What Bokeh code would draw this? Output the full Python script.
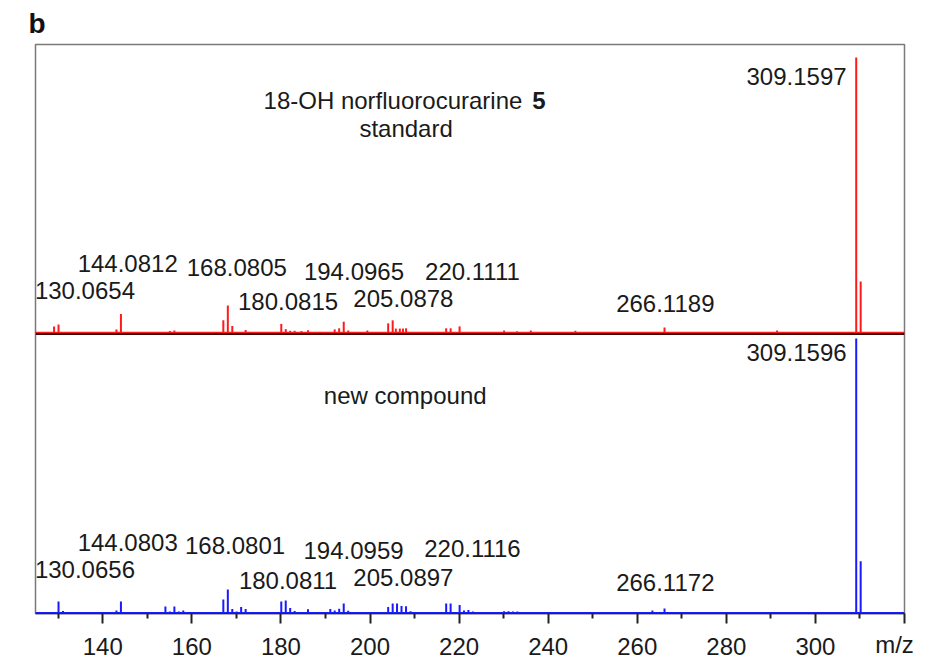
from bokeh.plotting import figure
from bokeh.models import Range1d, Span, Label, FixedTicker, ColumnDataSource
from bokeh.embed import file_html
from bokeh.resources import INLINE

# ---------------- data ----------------
# standard (red), relative intensity in %
std_mz = [129.07, 130.07, 143.07, 144.08, 155.07, 156.08, 167.07, 168.08, 169.08, 172.08,
          180.08, 181.08, 182.07, 183.08, 184.6, 186.07, 192.07, 193.07, 194.10, 195.1,
          199.4, 204.08, 205.09, 205.8, 206.7, 207.4, 208.1, 217.1, 218.1, 220.11,
          230.1, 233.0, 236.1, 246.1, 266.12, 291.4, 309.16, 310.16]
std_int = [2.2, 2.9, 1.1, 6.7, 0.5, 0.7, 4.4, 9.8, 2.3, 0.9,
           3.1, 1.2, 0.6, 0.6, 0.5, 0.8, 1.1, 1.5, 3.9, 0.7,
           0.7, 3.3, 4.4, 1.4, 1.4, 1.4, 1.5, 1.5, 1.5, 2.2,
           0.7, 0.4, 0.7, 0.6, 1.8, 0.7, 100.0, 18.5]

# new compound (blue)
new_mz = [130.07, 131.07, 132.08, 143.07, 144.08, 154.07, 155.07, 156.08, 157.08, 158.08,
          167.07, 168.08, 169.08, 170.07, 171.07, 172.08, 180.08, 181.08, 182.08, 183.08,
          184.1, 186.08, 191.09, 192.07, 193.08, 194.10, 195.1, 196.0, 199.3, 204.08,
          205.09, 206.07, 207.07, 208.09, 209.1, 212.1, 217.1, 218.1, 220.12, 221.1,
          222.1, 223.1, 230.1, 231.1, 232.1, 233.1, 234.1, 235.1, 237.1, 239.0,
          243.1, 247.3, 263.4, 266.12, 291.4, 309.16, 310.16, 311.2]
new_int = [4.4, 0.9, 0.4, 1.1, 4.4, 2.5, 0.7, 2.5, 0.7, 1.1,
           5.1, 8.7, 1.6, 0.7, 2.4, 1.6, 4.4, 4.7, 2.0, 0.9,
           0.5, 1.5, 1.6, 1.1, 1.7, 3.6, 1.0, 0.5, 0.4, 2.4,
           3.6, 3.6, 2.7, 2.6, 0.8, 0.4, 3.6, 3.6, 3.1, 1.1,
           1.3, 0.7, 0.8, 0.8, 0.7, 0.7, 0.5, 0.4, 0.4, 0.4,
           0.3, 0.3, 1.1, 1.8, 0.4, 100.0, 19.0, 0.4]

std_labels = ["130.0654", "144.0812", "168.0805", "194.0965", "220.1111",
              "180.0815", "205.0878", "266.1189"]
new_labels = ["130.0656", "144.0803", "168.0801", "194.0959", "220.1116",
              "180.0811", "205.0897", "266.1172"]
std_top_label = "309.1597"
new_top_label = "309.1596"

x_ticks = [140, 160, 180, 200, 220, 240, 260, 280, 300, 320]
x_minor = [130, 150, 170, 190, 210, 230, 250, 270, 290, 310]
x_label = "m/z"

# ---------------- layout (positions) ----------------
OFFSET = 102.2          # baseline of upper panel (data units)
Y_TOP = 206.9
X_START, X_END = 124.9, 320.0
# label centres: (x, y relative to own baseline)
std_label_pos = [(136.0, 15.3), (145.6, 25.1), (170.1, 23.6), (196.4, 22.2), (223.0, 22.2),
                 (181.6, 11.3), (207.5, 12.3), (266.3, 10.5)]
new_label_pos = [(136.0, 16.0), (145.6, 25.8), (169.7, 24.7), (196.3, 22.9), (223.0, 23.6),
                 (181.6, 12.0), (207.5, 13.1), (266.3, 11.3)]

FONT = "Liberation Sans"
FS = "24px"
TXT = "#1a1a1a"

p = figure(width=935, height=661, output_backend="svg", toolbar_location=None,
           x_range=Range1d(X_START, X_END), y_range=Range1d(0, Y_TOP),
           y_axis_location=None, min_border_left=35, min_border_right=31,
           min_border_top=44, min_border_bottom=48)
p.xgrid.visible = False
p.ygrid.visible = False
p.outline_line_color = "#7a7a7a"
p.outline_line_width = 1.5
p.background_fill_color = "white"
p.border_fill_color = "white"

p.title.text = "b"
p.title.text_font = FONT
p.title.text_font_size = "28px"
p.title.text_font_style = "bold"
p.title.text_color = "#111111"
p.title.align = "left"
p.title.offset = -7
p.title.standoff = 11

ax = p.xaxis[0]
ax.ticker = FixedTicker(ticks=x_ticks, minor_ticks=x_minor)
ax.major_label_text_font = FONT
ax.major_label_text_font_size = FS
ax.major_label_text_color = TXT
ax.major_label_standoff = 14
ax.major_tick_out = 10
ax.major_tick_in = 0
ax.minor_tick_out = 5
ax.minor_tick_in = 0
ax.major_tick_line_width = 2
ax.minor_tick_line_width = 2
ax.major_tick_line_color = "#222222"
ax.minor_tick_line_color = "#222222"
ax.axis_line_color = "#222222"
ax.axis_line_width = 1.5

ax.major_label_overrides = {320: ""}
ax.axis_label = x_label + "\u00a0" * 3
ax.axis_label_align = "end"
ax.axis_label_text_font = FONT
ax.axis_label_text_font_size = FS
ax.axis_label_text_font_style = "normal"
ax.axis_label_text_color = TXT
ax.axis_label_standoff = -27

std_src = ColumnDataSource(dict(mz=std_mz, y0=[OFFSET] * len(std_mz),
                                y1=[OFFSET + v for v in std_int]))
new_src = ColumnDataSource(dict(mz=new_mz, y0=[0.0] * len(new_mz), y1=new_int))

p.segment(x0="mz", y0="y0", x1="mz", y1="y1", source=std_src, line_color="#ff1a1a", line_width=2)
p.segment(x0="mz", y0="y0", x1="mz", y1="y1", source=new_src, line_color="#1a1aff", line_width=2)

# baselines / divider
p.add_layout(Span(location=OFFSET - 0.45, dimension="width", line_color="#3a0505", line_width=2.5))
p.add_layout(Span(location=OFFSET, dimension="width", line_color="#ff1a1a", line_width=1.2))
p.add_layout(Span(location=0.2, dimension="width", line_color="#1a1aff", line_width=2))


def lab(x, y, text, align="center", style="normal", size=FS):
    p.add_layout(Label(x=x, y=y, text=text, text_font=FONT, text_font_size=size,
                       text_color=TXT, text_align=align, text_baseline="middle",
                       text_font_style=style))


for t, (x, y) in zip(std_labels, std_label_pos):
    lab(x, OFFSET + y, t)
for t, (x, y) in zip(new_labels, new_label_pos):
    lab(x, y, t)

lab(307.0, OFFSET + 93.1, std_top_label, align="right")
lab(307.0, 94.9, new_top_label, align="right")

lab(234.2, 186.5, "18-OH norfluorocurarine", align="right")
lab(236.4, 186.5, "5", align="left", style="bold")
lab(208.1, 176.4, "standard")
lab(207.9, 79.3, "new compound")

open("out.html", "w").write(file_html(p, INLINE))
